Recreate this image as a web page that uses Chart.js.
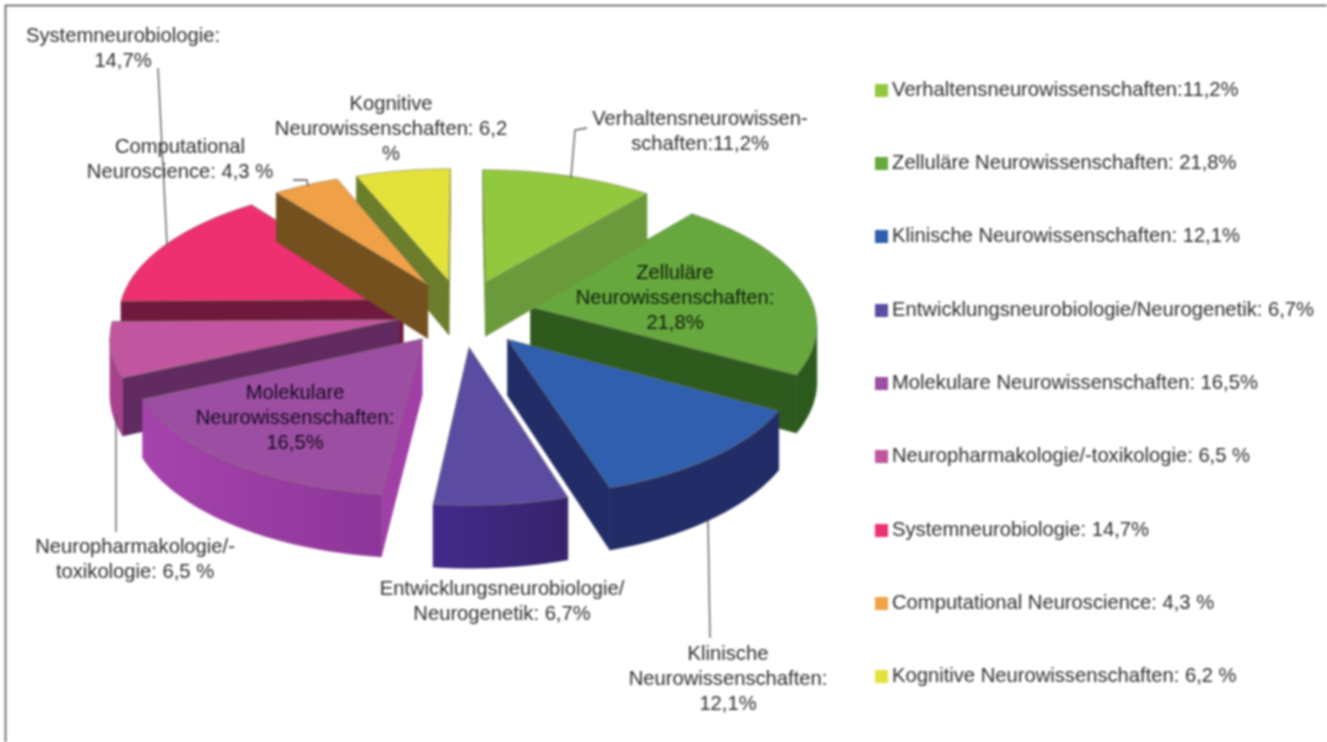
<!DOCTYPE html>
<html lang="de">
<head>
<meta charset="utf-8">
<title>Neurowissenschaften</title>
<script src="https://cdn.jsdelivr.net/npm/chart.js@4/dist/chart.umd.min.js"></script>
<style>
html,body{margin:0;padding:0;background:#fff;overflow:hidden}
canvas{display:block;filter:blur(0.8px)}
</style>
</head>
<body>
<canvas id="c" width="1327" height="742"></canvas>
<script>
// ---- data ----
const categories = [
  'Verhaltensneurowissenschaften:11,2%',
  'Zelluläre Neurowissenschaften: 21,8%',
  'Klinische Neurowissenschaften: 12,1%',
  'Entwicklungsneurobiologie/Neurogenetik: 6,7%',
  'Molekulare Neurowissenschaften: 16,5%',
  'Neuropharmakologie/-toxikologie: 6,5 %',
  'Systemneurobiologie: 14,7%',
  'Computational Neuroscience: 4,3 %',
  'Kognitive Neurowissenschaften: 6,2 %'
];
const shares = [11.2, 21.8, 12.1, 6.7, 16.5, 6.5, 14.7, 4.3, 6.2];
const calloutTexts = [
  ['Verhaltensneurowissen-', 'schaften:11,2%'],
  ['Zelluläre', 'Neurowissenschaften:', '21,8%'],
  ['Klinische', 'Neurowissenschaften:', '12,1%'],
  ['Entwicklungsneurobiologie/', 'Neurogenetik: 6,7%'],
  ['Molekulare', 'Neurowissenschaften:', '16,5%'],
  ['Neuropharmakologie/-', 'toxikologie: 6,5 %'],
  ['Systemneurobiologie:', '14,7%'],
  ['Computational', 'Neuroscience: 4,3 %'],
  ['Kognitive', 'Neurowissenschaften: 6,2', '%']
];

// ---- styles ----
const topColors  = ['#92c83e','#66a83e','#2f5fae','#5b4ca2','#9c4ea3','#c2559f','#ee3070','#f0a046','#e2e23a'];
const edgeColors = ['#6b9a3c','#2e5a1e','#222c66','#3a2480','#a03fa6','#612a60','#6f1a3c','#74501f','#6c7d2c'];
const rimFrom    = ['#6b9a3c','#2e5a1e','#222c66','#432a8c','#a544ac','#a8428e','#6f1a3c','#74501f','#6c7d2c'];
const rimTo      = ['#6b9a3c','#2c5a1c','#222c66','#35246a','#8a3396','#7a2a70','#6f1a3c','#74501f','#6c7d2c'];
const explode    = [70,70,70,70,66,64,66,70,70];
const drawOrder  = [1,0,6,8,7,5,4,2,3];
const calloutBoxes = [
  {x:700,y:119,c:'#2c2c2c'},{x:675,y:273,c:'#0e1c08'},{x:728,y:654,c:'#2c2c2c'},
  {x:502,y:589,c:'#2c2c2c'},{x:295,y:393,c:'#140a1c'},{x:135,y:547,c:'#2c2c2c'},
  {x:123,y:36,c:'#2c2c2c'},{x:180,y:147,c:'#2c2c2c'},{x:391,y:104,c:'#2c2c2c'}
];
const leaders = [
  [[587,128],[575,130],[571,178]],
  [[158,68],[167,245]],
  [[293,180],[307,180],[308,186]],
  [[116,532],[116,415]],
  [[708,520],[710,638]]
];
const view = {cx:462, cy:313, squash:0.475, persp:0.0004, depth:55};

function project(X, Y, z) {
  const k = 1 + Y * view.persp;
  return [view.cx + X * k, view.cy + Y * view.squash * k + z * k];
}
function fillQuad(ctx, top, bottom, col) {
  ctx.beginPath();
  top.forEach((P, s) => s ? ctx.lineTo(P[0], P[1]) : ctx.moveTo(P[0], P[1]));
  bottom.slice().reverse().forEach(P => ctx.lineTo(P[0], P[1]));
  ctx.closePath();
  ctx.fillStyle = col; ctx.strokeStyle = col; ctx.lineWidth = 0.6;
  ctx.fill(); ctx.stroke();
}

const pie3d = {
  id: 'pie3d',
  beforeDatasetsDraw(chart) {
    const ctx = chart.ctx;
    const arcs = chart.getDatasetMeta(0).data;
    ctx.save();
    ctx.lineJoin = 'round';
    drawOrder.forEach(i => {
      const a = arcs[i];
      const off = a.options.offset;
      const mid = (a.startAngle + a.endAngle) / 2;
      const ox = Math.cos(mid) * off, oy = Math.sin(mid) * off;
      const r = a.outerRadius;
      const pts = [[ox, oy]];
      const n = Math.max(4, Math.ceil((a.endAngle - a.startAngle) / 0.03));
      for (let s = 0; s <= n; s++) {
        const t = a.startAngle + (a.endAngle - a.startAngle) * s / n;
        pts.push([ox + Math.cos(t) * r, oy + Math.sin(t) * r]);
      }
      const tops = pts.map(p => project(p[0], p[1], 0));
      const lows = pts.map(p => project(p[0], p[1], view.depth));
      const xs = tops.map(p => p[0]);
      const grad = ctx.createLinearGradient(Math.min(...xs), 0, Math.max(...xs), 0);
      grad.addColorStop(0, rimFrom[i]);
      grad.addColorStop(1, rimTo[i]);
      const last = pts.length - 1;
      // flat side: apex -> start of arc
      if (tops[1][0] < tops[0][0]) fillQuad(ctx, [tops[0], tops[1]], [lows[0], lows[1]], edgeColors[i]);
      // flat side: end of arc -> apex
      if (tops[0][0] < tops[last][0]) fillQuad(ctx, [tops[last], tops[0]], [lows[last], lows[0]], edgeColors[i]);
      // rim: the run of arc points that look at the viewer
      let runTop = [], runLow = [];
      for (let s = 1; s < last; s++) {
        if (tops[s + 1][0] < tops[s][0]) {
          if (!runTop.length) { runTop.push(tops[s]); runLow.push(lows[s]); }
          runTop.push(tops[s + 1]); runLow.push(lows[s + 1]);
        }
      }
      if (runTop.length) fillQuad(ctx, runTop, runLow, grad);
      // top face
      ctx.beginPath();
      tops.forEach((P, s) => s ? ctx.lineTo(P[0], P[1]) : ctx.moveTo(P[0], P[1]));
      ctx.closePath();
      ctx.fillStyle = a.options.backgroundColor;
      ctx.fill();
      ctx.strokeStyle = 'rgba(120,120,100,0.55)';
      ctx.lineWidth = 1;
      ctx.stroke();
    });
    ctx.restore();
    return false;
  },
  afterDraw(chart) {
    const ctx = chart.ctx;
    ctx.save();
    // frame of the figure
    ctx.strokeStyle = '#4a4a4a';
    ctx.lineWidth = 1.5;
    ctx.beginPath();
    ctx.moveTo(5.5, 742); ctx.lineTo(5.5, 5.5); ctx.lineTo(1327, 5.5);
    ctx.stroke();
    // leader lines
    ctx.strokeStyle = '#555';
    ctx.lineWidth = 1.3;
    leaders.forEach(l => {
      ctx.beginPath();
      l.forEach((p, s) => s ? ctx.lineTo(p[0], p[1]) : ctx.moveTo(p[0], p[1]));
      ctx.stroke();
    });
    // callouts
    ctx.font = '20.2px "Liberation Sans", Arial, sans-serif';
    ctx.textAlign = 'center';
    ctx.textBaseline = 'middle';
    calloutTexts.forEach((lines, i) => {
      ctx.fillStyle = calloutBoxes[i].c;
      lines.forEach((t, s) => ctx.fillText(t, calloutBoxes[i].x, calloutBoxes[i].y + s * 25));
    });
    ctx.restore();
  }
};

function swatch(color) {
  const c = document.createElement('canvas');
  c.width = 13; c.height = 13;
  const g = c.getContext('2d');
  g.fillStyle = color;
  g.fillRect(0, 0, 13, 13);
  return c;
}

new Chart(document.getElementById('c'), {
  type: 'pie',
  data: {
    labels: categories,
    datasets: [{
      data: shares,
      backgroundColor: topColors,
      borderWidth: 0,
      offset: explode,
      radius: 285
    }]
  },
  options: {
    responsive: false,
    animation: false,
    layout: {padding: {top: 25, bottom: 0, left: 0, right: 3}},
    plugins: {
      tooltip: {enabled: false},
      legend: {
        display: true,
        position: 'right',
        labels: {
          usePointStyle: true,
          pointStyleWidth: 1,
          boxHeight: 13,
          padding: 53.1,
          color: '#2c2c2c',
          font: {family: '"Liberation Sans", Arial, sans-serif', size: 20.2},
          generateLabels(chart) {
            return Chart.overrides.doughnut.plugins.legend.labels.generateLabels(chart)
              .map(item => ({...item, pointStyle: swatch(item.fillStyle)}));
          }
        }
      }
    }
  },
  plugins: [pie3d]
});
</script>
</body>
</html>
